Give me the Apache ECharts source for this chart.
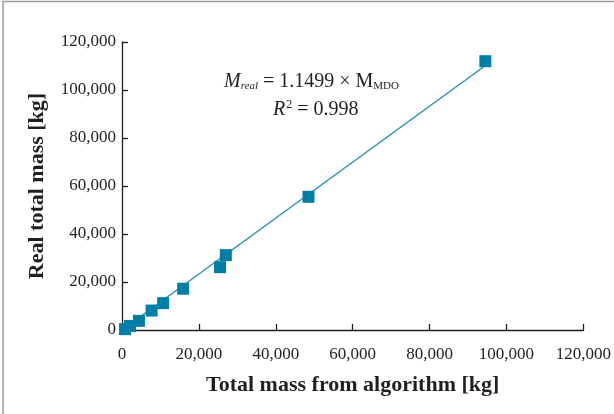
<!doctype html>
<html lang="en">
<head>
    <meta charset="UTF-8">
    <title>Real vs algorithm mass</title>
    <script src="https://cdn.jsdelivr.net/npm/echarts@6/dist/echarts.min.js"></script>
    <style>
        html, body { margin: 0; padding: 0; background: #fff; }
        #mainChart { width: 614px; height: 414px; }
    </style>
</head>
<body>
<div id="mainChart"></div>
<script>
    // mass from algorithm [kg] vs real mass [kg]
    let algoMass = [94500, 48500, 27000, 25500, 15900, 10700, 7700, 4400, 2100, 800];
    let realMass = [112000, 55500, 31200, 26200, 17200, 11200, 8100, 3800, 1700, 350];
    // regression line M_real = 1.1499 * M_MDO, drawn from 0 to the top point
    let fitX = [0, 94000];
    let fitY = [0, 109600];
    let tickMax = 120000;
    let tickStep = 20000;

    let serif = '"Liberation Serif", "DejaVu Serif", serif';
    let ink = '#231f20';
    let points = algoMass.map((x, i) => [x, realMass[i]]);
    let fitLine = fitX.map((x, i) => [x, fitY[i]]);

    function axisCommon(name, gap, labelMargin) {
        return {
            type: 'value',
            min: 0,
            max: tickMax,
            interval: tickStep,
            name: name,
            nameLocation: 'middle',
            nameGap: gap,
            nameTextStyle: { fontFamily: serif, fontWeight: 'bold', fontSize: 22, color: ink },
            axisLine: { show: true, lineStyle: { color: ink, width: 1.3 } },
            axisTick: { show: true, inside: true, length: 6, lineStyle: { color: ink, width: 1.3 } },
            axisLabel: {
                fontFamily: serif, fontSize: 17, color: ink, margin: labelMargin,
                formatter: v => v.toLocaleString('en-US')
            },
            splitLine: { show: false }
        };
    }

    let myChart = echarts.init(document.getElementById('mainChart'));
    let option = {
        animation: false,
        grid: { left: 122, right: 26, top: 42, bottom: 84 },
        xAxis: axisCommon('Total mass from algorithm [kg]', 44, 16),
        yAxis: axisCommon('Real total mass [kg]', 74, 6),
        graphic: [
            {
                type: 'polyline',
                shape: { points: [[3, 414], [3, 1.5], [614, 1.5]] },
                style: { stroke: '#9a9a9a', lineWidth: 1.5, fill: null }
            },
            {
                type: 'text',
                left: 224,
                top: 72,
                style: {
                    text: '{i|M}{sub|real}{n| = 1.1499 × M}{sc|MDO}',
                    fontFamily: serif,
                    fill: ink,
                    rich: {
                        i: { fontFamily: serif, fontStyle: 'italic', fontSize: 20, fill: ink },
                        sub: { fontFamily: serif, fontStyle: 'italic', fontSize: 11, fill: ink, padding: [9, 0, 0, 0] },
                        n: { fontFamily: serif, fontSize: 20, fill: ink },
                        sc: { fontFamily: serif, fontSize: 11, fill: ink, padding: [9, 0, 0, 0] }
                    }
                }
            },
            {
                type: 'text',
                left: 273,
                top: 99,
                style: {
                    text: '{i|R}{sup|2}{n| = 0.998}',
                    fontFamily: serif,
                    fill: ink,
                    rich: {
                        i: { fontFamily: serif, fontStyle: 'italic', fontSize: 20, fill: ink },
                        sup: { fontFamily: serif, fontSize: 12, fill: ink, padding: [0, 0, 10, 1] },
                        n: { fontFamily: serif, fontSize: 20, fill: ink }
                    }
                }
            }
        ],
        series: [
            {
                type: 'line',
                data: fitLine,
                symbol: 'none',
                lineStyle: { color: '#1b8cbd', width: 1.3 },
                z: 1
            },
            {
                type: 'scatter',
                data: points,
                symbol: 'rect',
                symbolSize: 12,
                itemStyle: { color: '#007fa6', opacity: 1 },
                z: 2
            }
        ]
    };
    option && myChart.setOption(option);
</script>
</body>
</html>
